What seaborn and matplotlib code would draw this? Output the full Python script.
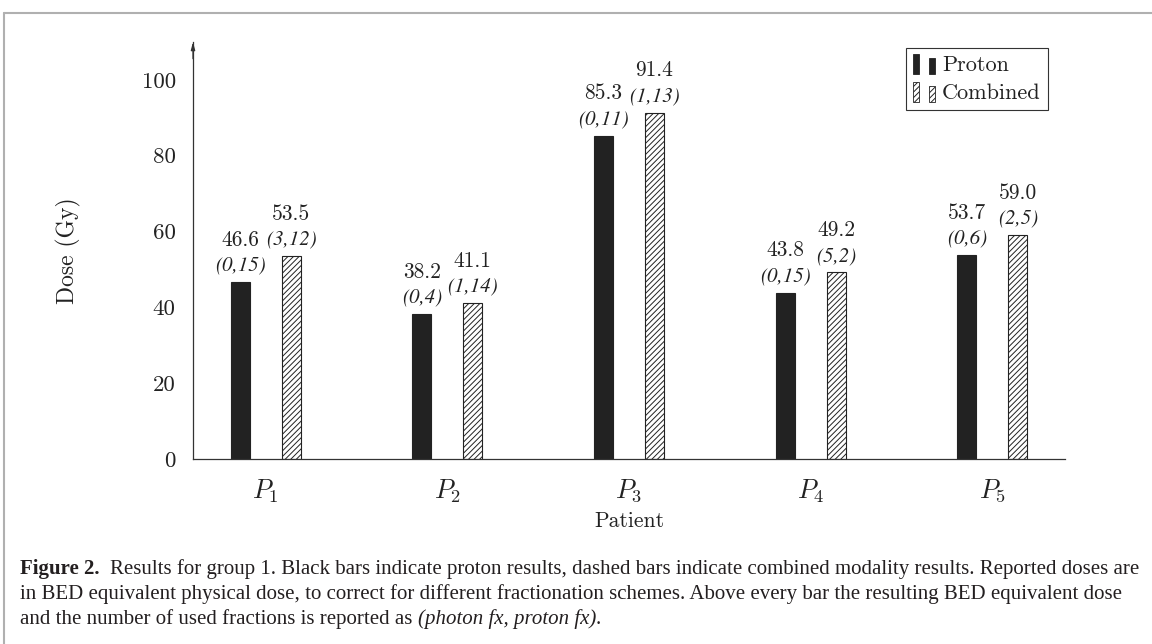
import numpy as np
import pandas as pd
import seaborn as sns
import matplotlib.pyplot as plt
from matplotlib.patches import Patch, Rectangle
from matplotlib.legend_handler import HandlerBase
from matplotlib.lines import Line2D
from matplotlib.font_manager import FontProperties

# ---- data -------------------------------------------------------------
patients = ["P1", "P2", "P3", "P4", "P5"]
patient_ticks = [r"$P_1$", r"$P_2$", r"$P_3$", r"$P_4$", r"$P_5$"]
proton_dose = [46.6, 38.2, 85.3, 43.8, 53.7]
combined_dose = [53.5, 41.1, 91.4, 49.2, 59.0]
proton_fx = ["(0,15)", "(0,4)", "(0,11)", "(0,15)", "(0,6)"]
combined_fx = ["(3,12)", "(1,14)", "(1,13)", "(5,2)", "(2,5)"]
modalities = ["Proton", "Combined"]
y_ticks = [0, 20, 40, 60, 80, 100]

df = pd.DataFrame({
    "Patient": patients * 2,
    "Dose": proton_dose + combined_dose,
    "Modality": [modalities[0]] * len(patients) + [modalities[1]] * len(patients),
})

# ---- style ------------------------------------------------------------
sns.set_style("white")
plt.rcParams.update({
    "font.family": ["cmr10", "DejaVu Serif"],
    "mathtext.fontset": "cm",
    "axes.formatter.use_mathtext": True,
    "hatch.linewidth": 0.7,
    "hatch.color": "#222222",
    "text.color": "#222222",
})
INK = "#222222"
TICK = "#9a9a9a"
FS = 15.5
italic_fp = FontProperties(family="STIXGeneral", style="italic", size=15)

fig = plt.figure(figsize=(11.52, 6.44), dpi=100)
W, H = 1152, 644
ax = fig.add_axes([193 / W, 1 - 459 / H, (1065 - 193) / W, (459 - 42) / H])

sns.barplot(
    data=df, x="Patient", y="Dose", hue="Modality", hue_order=modalities,
    palette={"Proton": INK, "Combined": "white"}, saturation=1,
    width=0.56, gap=0.625, edgecolor=INK, linewidth=0.8,
    legend=False, ax=ax, zorder=2,
)
for bar in ax.containers[1]:
    bar.set_hatch("//////")

# value and fraction labels above each bar
for container, doses, fxs in zip(ax.containers, [proton_dose, combined_dose], [proton_fx, combined_fx]):
    for bar, dose, fx in zip(container, doses, fxs):
        xc = bar.get_x() + bar.get_width() / 2
        ax.annotate(fx, (xc, dose), xytext=(0, 8.4), textcoords="offset points",
                    ha="center", va="baseline", fontproperties=italic_fp, color=INK)
        ax.annotate(f"{dose:.1f}", (xc, dose), xytext=(0, 26.4), textcoords="offset points",
                    ha="center", va="baseline", fontsize=FS, color=INK)

# ---- axes -------------------------------------------------------------
ax.set_xlim(-0.4, 4.4)
ax.set_ylim(0, 110)
ax.set_yticks(y_ticks)
ax.set_yticklabels([str(t) for t in y_ticks], fontsize=16.5, color=INK)
ax.set_xticks(range(len(patients)))
ax.set_xticklabels(patient_ticks, fontsize=19, color=INK)
ax.tick_params(axis="y", direction="inout", length=9, width=0.8, color=TICK, pad=8)
ax.tick_params(axis="x", direction="out", length=7, width=0.8, color=TICK, pad=6)
ax.set_xlabel("Patient", fontsize=15.5, color=INK)
ax.set_ylabel("Dose (Gy)", fontsize=17, color=INK)
ax.xaxis.set_label_coords(0.5, (459 - 511) / 417)
ax.yaxis.set_label_coords((81 - 193) / 872, 0.5)
for side in ["top", "right"]:
    ax.spines[side].set_visible(False)
for side in ["left", "bottom"]:
    ax.spines[side].set_color("#333333")
    ax.spines[side].set_linewidth(0.9)
ax.annotate("", xy=(0, 1.0), xytext=(0, 0.96), xycoords="axes fraction",
            arrowprops=dict(arrowstyle="-|>,head_length=0.45,head_width=0.12",
                            color="#333333", lw=0.9, shrinkA=0, shrinkB=0))


# ---- legend with paired-bar glyphs -----------------------------------
class PairedBars(HandlerBase):
    def create_artists(self, legend, orig_handle, xdescent, ydescent,
                       width, height, fontsize, trans):
        bw = width * 0.28
        arts = []
        for x0, h in [(0, height * 1.3), (width - bw, height * 1.0)]:
            r = Rectangle((x0 - xdescent, -ydescent - height * 0.2), bw, h,
                          facecolor=orig_handle.get_facecolor(),
                          edgecolor=orig_handle.get_edgecolor(),
                          hatch=orig_handle.get_hatch(), lw=0.6, transform=trans)
            arts.append(r)
        return arts


handles = [Patch(facecolor=INK, edgecolor=INK),
           Patch(facecolor="white", edgecolor=INK, hatch="//////")]
leg = ax.legend(handles, modalities, handler_map={Patch: PairedBars()},
                loc="upper right", bbox_to_anchor=((1048 - 193) / 872, (459 - 48) / 417),
                borderaxespad=0, frameon=True, fancybox=False, framealpha=1,
                edgecolor="#333333", fontsize=16, handlelength=1.0,
                handletextpad=0.3, labelspacing=0.38, borderpad=0.32)
leg.get_frame().set_linewidth(0.8)

# ---- figure frame -----------------------------------------------------
fig.add_artist(Line2D([4 / W, 1.0], [1 - 13 / H, 1 - 13 / H], color="#b0b0b0", lw=1.5,
                      transform=fig.transFigure))
fig.add_artist(Line2D([4 / W, 4 / W], [1 - 13 / H, 0], color="#b0b0b0", lw=1.5,
                      transform=fig.transFigure))

# ---- caption ----------------------------------------------------------
cap_family = "Liberation Serif"
cap_lines = [
    [("Figure 2.", "bold", "normal"), ("  ", None, None),
     ("Results for group 1. Black bars indicate proton results, dashed bars indicate "
      "combined modality results. Reported doses are", "normal", "normal")],
    [("in BED equivalent physical dose, to correct for different fractionation schemes. "
      "Above every bar the resulting BED equivalent dose", "normal", "normal")],
    [("and the number of used fractions is reported as", "normal", "normal"), (" ", None, None),
     ("(photon fx, proton fx)", "normal", "italic"), (".", "normal", "normal")],
]
cap_baselines = [574, 599, 624]
cap_left = 20
cap_right = 1138

fig.canvas.draw()
renderer = fig.canvas.get_renderer()


def text_width(s, size, weight="normal", style="normal"):
    t = fig.text(0, 0, s, family=cap_family, size=size, weight=weight, style=style)
    w = t.get_window_extent(renderer).width
    t.remove()
    return w


def space_width(size):
    return text_width("x x", size) - text_width("xx", size)


def line_width(pieces, size):
    total = 0
    for s, wt, st in pieces:
        if wt is None:
            total += space_width(size) * len(s)
        else:
            total += text_width(s, size, wt, st)
    return total


base = 12.0
cap_size = base * (cap_right - cap_left) / line_width(cap_lines[0], base)

for pieces, yb in zip(cap_lines, cap_baselines):
    x = cap_left
    for s, wt, st in pieces:
        if wt is None:
            x += space_width(cap_size) * len(s)
            continue
        t = fig.text(x / W, 1 - yb / H, s, family=cap_family, size=cap_size,
                     weight=wt, style=st, va="baseline", ha="left", color="#231f20")
        x += t.get_window_extent(renderer).width

fig.savefig("out.png", dpi=100)
